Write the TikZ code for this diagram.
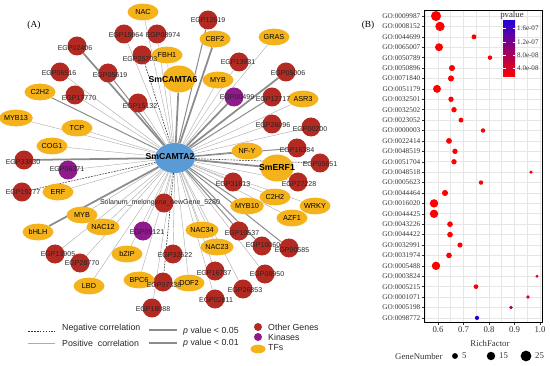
\documentclass[tikz,border=0pt]{standalone}
\usepackage{fontspec}
\setmainfont{Liberation Serif}
\newfontfamily\arial{Liberation Sans}
\usetikzlibrary{shapes.geometric}
\pgfdeclarelayer{bg}\pgfsetlayers{bg,main}
\definecolor{genec}{HTML}{B22A22}
\definecolor{kinc}{HTML}{8E1A8C}
\definecolor{tfc}{HTML}{F5B31B}
\definecolor{hubc}{HTML}{5B9BD5}
\definecolor{edgec}{HTML}{ABABAB}
\definecolor{edgek}{HTML}{8C8C8C}
\definecolor{gridc}{HTML}{E6E6E6}
\begin{document}
\begin{tikzpicture}[x=0.03cm,y=-0.03cm,
 gene/.style={circle,fill=genec,minimum size=0.57cm,inner sep=0},
 kin/.style={circle,fill=kinc,minimum size=0.57cm,inner sep=0},
 tfn/.style={ellipse,fill=tfc,minimum width=0.93cm,minimum height=0.5cm,inner sep=0,font=\arial\fontsize{6.2}{7}\selectfont},
 lbl/.style={font=\arial\fontsize{6}{7}\selectfont,inner sep=0,text=black!85},
 hublbl/.style={font=\arial\bfseries\fontsize{7.4}{8}\selectfont,inner sep=0},
 leg/.style={font=\arial\fontsize{7.5}{9}\selectfont,inner sep=0,anchor=west,text=black!85},
 ethin/.style={draw=edgec,line width=0.35pt},
 emed/.style={draw=edgek,line width=0.85pt},
 ethick/.style={draw=edgek,line width=1.5pt},
 eneg/.style={draw=black!80,line width=0.5pt,dash pattern=on 1.5pt off 1pt},
 golbl/.style={font=\fontsize{6.2}{7}\selectfont,inner sep=0,anchor=east,text=black!80},
 axlbl/.style={font=\fontsize{7.5}{9}\selectfont,inner sep=0,text=black!80},
]
\useasboundingbox (0,0) rectangle (550,366);

% ---------------- Panel A ----------------
\node[font=\fontsize{8}{9}\selectfont] (labA) at (34,25) {(A)};

\def\genelist{r1/124/34/126/35/EGP15964, r2/157/34/163/35/EGP08974, r3/77/46/75/48/EGP02406,
 r4/142/55/140/59/EGP25703, r5/60/72/59/73/EGP06516, r6/108/73/110/75/EGP05619,
 r7/75/95/79/98/EGP17770, r8/138/103/140/106/EGP15132, r9/208/20/208/20/EGP12619,
 r10/239/62/238/62/EGP13931, r11/286/72/288/73/EGP05006, r12/272/97/273/99/EGP12717,
 r13/272/124/273/125/EGP26096, r14/311/127/310/129/EGP00200, r15/297/148/297/150/EGP16384,
 r16/320/163/320/164/EGP05651, r17/298/182/299/184/EGP27228, r18/233/182/233/184/EGP31613,
 r19/24/160/23/162/EGP33830, r20/22/192/23/192/EGP19277, r21/164/203/160/203/Solanum\_melongena\_newGene\_5280,
 r22/239/231/242/233/EGP10537, r23/262/246/263/245/EGP10060, r24/289/248/292/250/EGP00585,
 r25/173/254/175/255/EGP32622, r26/55/254/58/254/EGP13905, r27/80/263/82/263/EGP28770,
 r28/215/271/214/273/EGP16737, r29/265/274/267/274/EGP08950, r30/163/282/164/285/EGP07338,
 r31/243/289/245/290/EGP26853, r32/215/299/216/300/EGP02811, r33/152/308/153/309/EGP18088}
\def\kinlist{k1/234/97/237/97/EGP00499, k2/68/170/67/169/EGP06371, k3/143/231/147/232/EGP09121}
\def\tflist{t1/143/12/NAC, t2/167/55/FBH1, t3/40/92/C2H2, t4/16/118/MYB13, t5/77/128/TCP,
 t6/52/146/COG1, t7/58/192/ERF, t8/82/215/MYB, t9/38/232/bHLH, t10/103/227/NAC12,
 t11/127/254/bZIP, t12/89/286/LBD, t13/139/280/BPC6, t14/189/283/DOF2, t15/202/230/NAC34,
 t16/217/247/NAC23, t17/247/206/MYB10, t18/275/197/C2H2, t19/292/218/AZF1, t20/315/206/WRKY,
 t21/247/151/NF-Y, t22/303/99/ASR3, t23/218/80/MYB, t24/215/39/CBF2, t25/274/37/GRAS}

\foreach \n/\x/\y/\lx/\ly/\t in \genelist {\node[gene] (\n) at (\x,\y) {};}
\foreach \n/\x/\y/\lx/\ly/\t in \kinlist {\node[kin] (\n) at (\x,\y) {};}
\foreach \n/\x/\y/\t in \tflist {\node[tfn] (\n) at (\x,\y) {\t};}

\node[ellipse,fill=hubc,minimum width=1.2cm,minimum height=0.9cm] (h1) at (175,158) {};
\node[ellipse,fill=tfc,minimum width=0.99cm,minimum height=0.81cm] (h2) at (179,79) {};
\node[ellipse,fill=tfc,minimum width=0.99cm,minimum height=0.81cm] (h3) at (277,168) {};

\foreach \n/\x/\y/\lx/\ly/\t in \genelist {\node[lbl] at (\lx,\ly) {\t};}
\foreach \n/\x/\y/\lx/\ly/\t in \kinlist {\node[lbl] at (\lx,\ly) {\t};}
\node[hublbl] at (170,157) {SmCAMTA2};
\node[hublbl] at (173,80) {SmCAMTA6};
\node[hublbl] at (277,168) {SmERF1};

\begin{pgfonlayer}{bg}
\foreach \n in {r1,r2,r5,r7,r8,r10,r13,r14,r17,r18,r21,r25,r26,r27,r28,r29,r31,r32,r33,k2,k3,
 t1,t2,t4,t5,t6,t7,t8,t10,t11,t12,t13,t14,t15,t16,t18,t19,t20,t22,t23,t25}
 {\draw[ethin] (h1) -- (\n);}
\foreach \n in {r6,r9,r12,r15,r22,r23,r24,t3,t17,t21} {\draw[emed] (h1) -- (\n);}
\foreach \n in {h2,r3,t24,r11,r19,t9,h3,k1} {\draw[ethick] (h1) -- (\n);}
\foreach \n in {r4,r16,r20,r30} {\draw[eneg] (h1) -- (\n);}
\end{pgfonlayer}

% legend A
\coordinate (n1) at (28,331); \coordinate (n2) at (55,331);
\coordinate (p1) at (28,343); \coordinate (p2) at (55,343);
\coordinate (m1) at (149,330); \coordinate (m2) at (177,330);
\coordinate (s1) at (149,343); \coordinate (s2) at (177,343);
\draw[eneg] (n1) -- (n2);
\draw[draw=edgec,line width=0.6pt] (p1) -- (p2);
\draw[draw=edgek,line width=1.2pt] (m1) -- (m2);
\draw[draw=edgek,line width=2.4pt] (s1) -- (s2);
\node[leg] (lt1) at (62,328) {Negative correlation};
\node[leg] (lt2) at (62,343) {Positive\ \ correlation};
\node[leg] (lt3) at (183,331) {\textit{p} value < 0.05};
\node[leg] (lt4) at (183,343) {\textit{p} value < 0.01};
\node[circle,fill=genec,minimum size=0.24cm,inner sep=0] (lg1) at (258,327) {};
\node[circle,fill=kinc,minimum size=0.24cm,inner sep=0] (lg2) at (258,337) {};
\node[ellipse,fill=tfc,minimum width=0.45cm,minimum height=0.26cm,inner sep=0] (lg3) at (258,349) {};
\node[leg] (lt5) at (268,327) {Other Genes};
\node[leg] (lt6) at (268,337) {Kinases};
\node[leg] (lt7) at (268,348) {TFs};

% ---------------- Panel B ----------------
\node[font=\fontsize{8}{9}\selectfont] (labB) at (368,25) {(B)};
\foreach \x in {425.25,438,450.75,463.5,476.25,489,501.75,514.5,527.25,540}
 {\draw[gridc,line width=0.5pt] (\x,10) -- (\x,322);}
\foreach \i in {0,...,29} {\draw[gridc,line width=0.5pt] (424,16+\i*10.41) -- (542,16+\i*10.41);}
\foreach \t/\x in {0.6/438,0.7/463.5,0.8/489,0.9/514.5,1.0/540}
 {\draw[black!80,line width=0.4pt] (\x,322) -- (\x,324.5);
  \node[axlbl,anchor=north] at (\x,326.5) {\t};}
\node[axlbl] (rf) at (490,343) {RichFactor};

\foreach \i/\g/\x/\r/\c in {
 0/GO:0009987/436/4.3/red, 1/GO:0008152/440/4.0/red, 2/GO:0044699/474/2.1/red,
 3/GO:0065007/439/3.4/red, 4/GO:0050789/490/1.9/red, 5/GO:0050896/452/2.6/red,
 6/GO:0071840/451/2.6/red, 7/GO:0051179/437/3.4/red, 8/GO:0032501/451/2.3/red,
 9/GO:0032502/454/2.3/red, 10/GO:0023052/461/2.1/red, 11/GO:0000003/483/1.9/red,
 12/GO:0022414/449/2.5/red, 13/GO:0048519/455/2.3/red, 14/GO:0051704/454/2.3/red,
 15/GO:0048518/531/1.5/red, 16/GO:0005623/481/1.9/red, 17/GO:0044464/445/2.6/red,
 18/GO:0016020/434/3.6/red, 19/GO:0044425/434/3.6/red, 20/GO:0043226/450/2.4/red,
 21/GO:0044422/450/2.4/red, 22/GO:0032991/460/2.2/red, 23/GO:0031974/449/2.4/red,
 24/GO:0005488/436/3.6/red, 25/GO:0003824/537/1.4/red!92!blue, 26/GO:0005215/476/2.0/red!97!blue,
 27/GO:0001071/528/1.6/red!85!blue, 28/GO:0005198/511/1.6/red!65!blue, 29/GO:0098772/477/1.8/blue!90!red}
 {\fill[\c] (\x,16+\i*10.41) circle[radius=\r pt];
  \draw[black!80,line width=0.4pt] (421.5,16+\i*10.41) -- (424,16+\i*10.41);
  \node[golbl] at (420.5,16+\i*10.41) {\g};}
\draw[black,line width=0.7pt] (424,10) rectangle (542,322);

% colour bar
\node[axlbl] (pv) at (512,15) {pvalue};
\shade[top color=blue!85!red,bottom color=red] (503,21) rectangle (515,77);
\foreach \t/\y in {1.6e-07/28,1.2e-07/42,8.0e-08/55,4.0e-08/68}
 {\draw[white,line width=0.4pt] (503,\y) -- (505.5,\y) (512.5,\y) -- (515,\y);
  \node[font=\fontsize{6}{7}\selectfont,inner sep=0,anchor=west,text=black!80] at (517,\y) {\t};}

% size legend
\node[axlbl,anchor=west] (gn) at (395,356) {GeneNumber};
\fill[black] (455,356) circle[radius=2.5pt];
\node[axlbl,anchor=west] at (462,356) {5};
\fill[black] (491,356) circle[radius=3.6pt];
\node[axlbl,anchor=west] at (499,356) {15};
\fill[black] (526,356) circle[radius=4.6pt];
\node[axlbl,anchor=west] at (535,356) {25};
\end{tikzpicture}
\end{document}
